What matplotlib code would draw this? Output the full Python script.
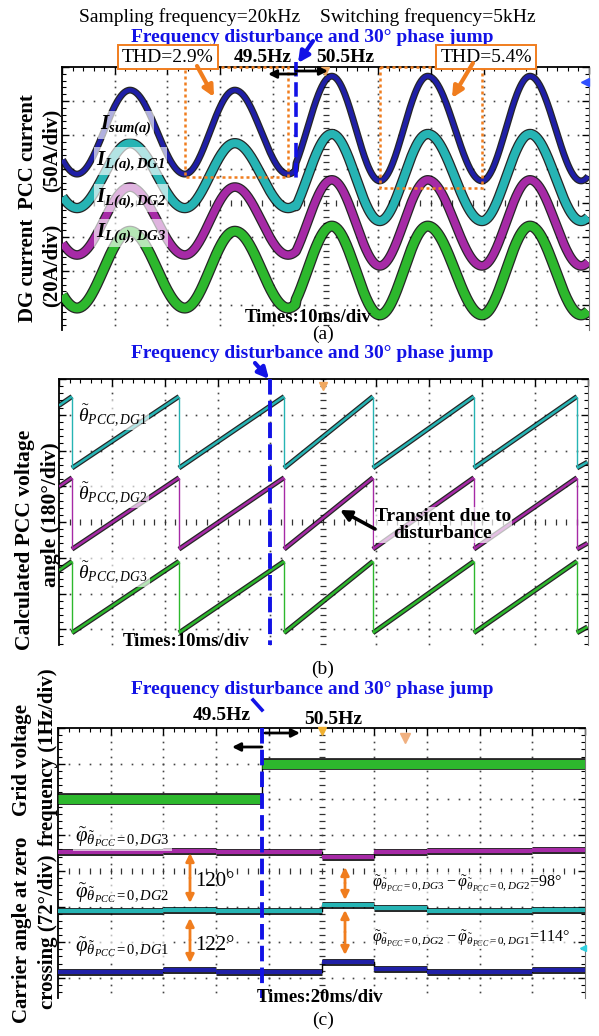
import numpy as np
import matplotlib.pyplot as plt
from matplotlib.ticker import MultipleLocator
from matplotlib.patches import Rectangle

W, H = 599, 1036

plt.rcParams['font.family'] = ['Liberation Serif', 'DejaVu Serif']
plt.rcParams['mathtext.fontset'] = 'custom'
plt.rcParams['mathtext.rm'] = 'Liberation Serif'
plt.rcParams['mathtext.it'] = 'Liberation Serif:italic'
plt.rcParams['mathtext.bf'] = 'Liberation Serif:bold'
plt.rcParams['mathtext.bfit'] = 'Liberation Serif:bold:italic'

BLUE = '#1f1fa6'
CYAN = '#26b4b4'
MAGENTA = '#a62aa6'
GREEN = '#2db82d'
ORANGE = '#f07d1e'
TITLE_BLUE = '#1212e6'

# ---- (a) currents, 10 ms/div; extremum instants in ms, levels in div from top
t_jump_a = 44.4
t_ext_pre = [-7.2, 2.85, 12.9, 23.3, 32.8, 42.9, 53.0]          # peak first
t_ext_post = [41.9, 51.2, 60.3, 69.4, 79.7, 88.8, 98.5, 108.4]  # trough first
cur_peak_pre = [0.68, 2.24, 3.53, 4.83]
cur_trough_pre = [3.15, 4.15, 5.53, 7.09]
cur_peak_post = [0.27, 1.97, 3.32, 4.68]
cur_trough_post = [3.35, 4.53, 5.85, 7.29]
thd_windows = [(23.3, 42.9, 3.24), (60.3, 79.7, 3.56)]

# ---- (b) calculated PCC angle, 10 ms/div, 180 deg/div
t_jump_b = 39.9
resets_b = [2.46, 22.7, 42.6, 59.4, 78.5, 98.0]
ang_start, ang_end = 315, 30
theta_zero = [2.49, 4.76, 7.10]

# ---- (c) grid frequency and carrier angles, 20 ms/div
t_jump_c = 77.4
freq_edges = [0, t_jump_c, 200]
freq_vals = [49.5, 50.5]
phi_edges = [0, 40, 60, 100, 120, 140, 180, 200]
phi_dg1 = [0, 4, 0, 20, 6, 0, 3]
phi_dg2 = [122, 124, 122, 134, 128, 122, 124]
phi_dg3 = [242, 244, 242, 232, 242, 244, 246]
phi_zero = 6.83


def half_cos(t_ext, first_peak, peak, trough, t0, t1, n=60):
    ts, ys = [], []
    for i in range(len(t_ext) - 1):
        is_peak = (i % 2 == 0) == first_peak
        va, vb = (peak, trough) if is_peak else (trough, peak)
        s = np.linspace(0, 1, n)
        ts.append(t_ext[i] + (t_ext[i + 1] - t_ext[i]) * s)
        ys.append(va + (vb - va) * (1 - np.cos(np.pi * s)) / 2)
    t = np.concatenate(ts)
    y = np.concatenate(ys)
    m = (t >= t0) & (t <= t1)
    return t[m], y[m]


fig = plt.figure(figsize=(W / 100, H / 100), dpi=100)


def scope_axes(x0, y0, x1, y1, t_div, ydiv_px):
    ax = fig.add_axes([x0 / W, 1 - y1 / H, (x1 - x0) / W, (y1 - y0) / H])
    ymax = (y1 - y0) / ydiv_px
    ax.set_xlim(0, 10 * t_div)
    ax.set_ylim(ymax, 0)
    ax.patch.set_alpha(0)
    ax.spines['bottom'].set_visible(False)
    ax.spines['left'].set_linewidth(1.3)
    ax.spines['top'].set_linewidth(1.3)
    ax.spines['right'].set_linewidth(0.8)
    ax.spines['right'].set_color('#777777')
    ax.xaxis.set_major_locator(MultipleLocator(t_div))
    ax.xaxis.set_minor_locator(MultipleLocator(t_div / 5))
    ax.yaxis.set_major_locator(MultipleLocator(1))
    ax.yaxis.set_minor_locator(MultipleLocator(0.2))
    ax.tick_params(which='both', direction='in', top=True, bottom=False,
                   left=True, right=True, labelleft=False, labelbottom=False)
    ax.tick_params(which='major', length=5, width=1)
    ax.tick_params(which='minor', length=3, width=0.8)
    ys = np.arange(0, ymax, 0.2)
    xs = np.arange(0, 10 * t_div, t_div / 5)
    for i in range(1, 10):
        if i == 5:
            ax.plot(np.full_like(ys, 5 * t_div), ys, ls='none', marker='_',
                    ms=5, mew=0.9, color='#333333', zorder=1)
        else:
            ax.plot(np.full_like(ys, i * t_div), ys, ls='none', marker='s',
                    ms=1.2, mew=0, color='#444444', zorder=1)
    for j in range(1, int(ymax) + 1):
        if j == 4:
            ax.plot(xs, np.full_like(xs, 4.0), ls='none', marker='|',
                    ms=5, mew=0.9, color='#333333', zorder=1)
        else:
            ax.plot(xs, np.full_like(xs, float(j)), ls='none', marker='s',
                    ms=1.2, mew=0, color='#444444', zorder=1)
    return ax


def band(ax, t, y, color, width, z):
    ax.plot(t, y, color='black', lw=width, alpha=0.85, zorder=z,
            solid_capstyle='butt')
    ax.plot(t, y, color=color, lw=width - 1.8, zorder=z + 0.1,
            solid_capstyle='butt')


def steps(ax, edges, vals, color, width, z):
    # flat levels drawn as bands, the jumps between them as thin lines
    ax.hlines(vals, edges[:-1], edges[1:], color='black', lw=width,
              alpha=0.85, zorder=z)
    ax.hlines(vals, edges[:-1], edges[1:], color=color, lw=width - 2.0,
              zorder=z + 0.1)
    for i in range(1, len(vals)):
        ax.plot([edges[i], edges[i]], [vals[i - 1], vals[i]], color='black',
                lw=1.0, zorder=z)


# ================= (a)
ax_a = scope_axes(62, 67, 589, 330, 10, 34)
cur_colors = [BLUE, CYAN, MAGENTA, GREEN]
cur_widths = [5.0, 7.5, 7.0, 8.0]
for k in [3, 2, 1, 0]:
    t1, y1 = half_cos(t_ext_pre, True, cur_peak_pre[k], cur_trough_pre[k], 0, t_jump_a)
    t2, y2 = half_cos(t_ext_post, False, cur_peak_post[k], cur_trough_post[k], t_jump_a, 100)
    band(ax_a, np.concatenate([t1, t2]), np.concatenate([y1, y2]),
         cur_colors[k], cur_widths[k], 3 + k * 0.2)
for ta, tb, bot in thd_windows:
    ax_a.add_patch(Rectangle((ta, 0), tb - ta, bot, fill=False, ec=ORANGE,
                             lw=1.8, ls=(0, (1.2, 1.2)), zorder=6, clip_on=False))
ax_a.plot([t_jump_a, t_jump_a], [-0.15, 3.3], color=TITLE_BLUE, lw=2.6,
          ls=(0, (4, 1.6)), zorder=7, clip_on=False)

# ================= (b)
ax_b = scope_axes(59, 379, 587.5, 645, 10, 35.75)
saw_colors = [CYAN, MAGENTA, GREEN]
for zero, col in zip(theta_zero, saw_colors):
    ts = [0] + resets_b + [100]
    for i in range(len(ts) - 1):
        a0 = ang_start if i == 0 else 0
        a1 = ang_end if i == len(ts) - 2 else 360
        band(ax_b, [ts[i], ts[i + 1]], [zero - a0 / 180, zero - a1 / 180], col, 3.6, 3)
    ax_b.vlines(resets_b, zero - 2, zero, color=col, lw=1.0, zorder=3)
ax_b.plot([t_jump_b, t_jump_b], [0, 7.44], color=TITLE_BLUE, lw=2.8,
          ls=(0, (4, 1.6)), zorder=7)

# ================= (c)
ax_c = scope_axes(58, 728, 585, 998, 20, 35.7)
steps(ax_c, freq_edges, [1.0 + (50.5 - f) for f in freq_vals], GREEN, 8.5, 3)
for phis, col in [(phi_dg3, MAGENTA), (phi_dg2, CYAN), (phi_dg1, BLUE)]:
    steps(ax_c, phi_edges, [phi_zero - p / 72 for p in phis], col, 5.0, 3)
ax_c.plot([t_jump_c, t_jump_c], [0, 7.56], color=TITLE_BLUE, lw=2.8,
          ls=(0, (4, 1.6)), zorder=7)

# ================= annotation layer in pixel units
ov = fig.add_axes([0, 0, 1, 1])
ov.set_xlim(0, W)
ov.set_ylim(H, 0)
ov.axis('off')
ov.patch.set_alpha(0)


def txt(x, y, s, size=14, **kw):
    kw.setdefault('ha', 'center')
    kw.setdefault('va', 'center')
    ov.text(x, y, s, fontsize=size, **kw)


def arrow(p0, p1, color, lw=2.0, style='-|>', ms=14):
    ov.annotate('', xy=p1, xytext=p0,
                arrowprops=dict(arrowstyle=style, color=color, lw=lw,
                                mutation_scale=ms, shrinkA=0, shrinkB=0))


white_box = dict(boxstyle='square,pad=0.1', fc='white', ec='none', alpha=0.65)

# titles of (a)
txt(190, 17, 'Sampling frequency=20kHz', 14)
txt(428, 17, 'Switching frequency=5kHz', 14)
txt(312, 37, 'Frequency disturbance and 30° phase jump', 14, color=TITLE_BLUE, weight='bold')
thd_box = dict(boxstyle='square,pad=0.2', fc='white', ec=ORANGE, lw=1.4)
txt(168, 57, 'THD=2.9%', 14, bbox=thd_box)
txt(486, 57, 'THD=5.4%', 14, bbox=thd_box)
txt(263, 58, '49.5Hz', 14, weight='bold')
txt(345, 58, '50.5Hz', 14, weight='bold')
arrow((296, 74), (268, 74), 'black', 2.0, ms=12)
arrow((296, 71), (328, 71), 'black', 2.0, ms=12)
arrow((313, 41), (298, 63), TITLE_BLUE, 3.0, ms=16)
arrow((197, 66), (214, 97), ORANGE, 3.0, ms=16)
arrow((473, 63), (452, 98), ORANGE, 3.0, ms=16)
ov.plot([325], [71], marker='v', ms=6, color='#f0a860', ls='none')
ov.plot([585], [82], marker='<', ms=6, color='#3050ff', ls='none')

txt(100, 125, r'$\mathbfit{I}_{\mathbfit{sum(a)}}$', 15, ha='left', bbox=white_box)
txt(96, 161, r'$\mathbfit{I}_{\mathbfit{L(a),DG1}}$', 15, ha='left', bbox=white_box)
txt(96, 198, r'$\mathbfit{I}_{\mathbfit{L(a),DG2}}$', 15, ha='left', bbox=white_box)
txt(96, 233, r'$\mathbfit{I}_{\mathbfit{L(a),DG3}}$', 15, ha='left', bbox=white_box)
txt(28, 152, 'PCC current', 15, weight='bold', rotation=90)
txt(52, 150, '(50A/div)', 15, weight='bold', rotation=90)
txt(28, 270, 'DG current', 15, weight='bold', rotation=90)
txt(52, 265, '(20A/div)', 15, weight='bold', rotation=90)
txt(308, 318, 'Times:10ms/div', 13.5, weight='bold')
txt(323, 334, '(a)', 14)

# (b)
txt(312, 354, 'Frequency disturbance and 30° phase jump', 14, color=TITLE_BLUE, weight='bold')
arrow((255, 363), (269, 379), TITLE_BLUE, 3.0, ms=16)
ov.plot([323], [386], marker='v', ms=6, color='#f0a860', ls='none')
txt(78, 415, r'$\tilde{\theta}_{PCC,DG1}$', 14, ha='left', bbox=white_box)
txt(78, 493, r'$\tilde{\theta}_{PCC,DG2}$', 14, ha='left', bbox=white_box)
txt(78, 572, r'$\tilde{\theta}_{PCC,DG3}$', 14, ha='left', bbox=white_box)
txt(25, 540, 'Calculated PCC voltage', 15.5, weight='bold', rotation=90)
txt(51, 515, 'angle (180°/div)', 15.5, weight='bold', rotation=90)
txt(186, 642, 'Times:10ms/div', 13.5, weight='bold')
txt(443, 525, 'Transient due to\ndisturbance', 14, weight='bold', linespacing=0.95,
    bbox=dict(boxstyle='square,pad=0.05', fc='white', ec='none', alpha=0.7))
arrow((375, 529), (340, 510), 'black', 2.6, ms=16)
txt(323, 669, '(b)', 14)

# (c)
txt(312, 690, 'Frequency disturbance and 30° phase jump', 14, color=TITLE_BLUE, weight='bold')
ov.plot([253, 262], [700, 710], color=TITLE_BLUE, lw=2.6)
txt(222, 715, '49.5Hz', 14, weight='bold')
txt(333, 719, '50.5Hz', 14, weight='bold')
arrow((262, 747), (232, 747), 'black', 2.0, ms=12)
arrow((265, 733), (300, 733), 'black', 2.0, ms=12)
ov.plot([322], [731], marker='v', ms=6, color='#f0b030', ls='none')
ov.plot([405], [738], marker='v', ms=7, color='#f0b080', ls='none')
ov.plot([583], [948], marker='<', ms=5, color='#30d0e0', ls='none')
txt(22, 760, 'Grid voltage', 15, weight='bold', rotation=90)
txt(48, 757, 'frequency (1Hz/div)', 15, weight='bold', rotation=90)
txt(22, 930, 'Carrier angle at zero', 15, weight='bold', rotation=90)
txt(48, 932, 'crossing (72°/div)', 15, weight='bold', rotation=90)
txt(75, 837, r'$\tilde{\varphi}_{\tilde{\theta}_{PCC}=0,DG3}$', 15, ha='left', bbox=white_box)
txt(75, 893, r'$\tilde{\varphi}_{\tilde{\theta}_{PCC}=0,DG2}$', 15, ha='left', bbox=white_box)
txt(75, 947, r'$\tilde{\varphi}_{\tilde{\theta}_{PCC}=0,DG1}$', 15, ha='left', bbox=white_box)
arrow((190, 878), (190, 853), ORANGE, 2.0, ms=12)
arrow((190, 878), (190, 903), ORANGE, 2.0, ms=12)
arrow((190, 940), (190, 918), ORANGE, 2.0, ms=12)
arrow((190, 940), (190, 963), ORANGE, 2.0, ms=12)
arrow((345, 883), (345, 867), ORANGE, 2.0, ms=12)
arrow((345, 883), (345, 900), ORANGE, 2.0, ms=12)
arrow((345, 932), (345, 910), ORANGE, 2.0, ms=12)
arrow((345, 932), (345, 955), ORANGE, 2.0, ms=12)
txt(195, 882, f'{phi_dg3[0] - phi_dg2[0]}°', 15, ha='left')
txt(195, 945, f'{phi_dg2[0] - phi_dg1[0]}°', 15, ha='left')
txt(372, 883, r'$\tilde{\varphi}_{\tilde{\theta}_{PCC}=0,DG3}-\tilde{\varphi}_{\tilde{\theta}_{PCC}=0,DG2}$'
    + f'={phi_dg3[3] - phi_dg2[3]}°', 11.5, ha='left', bbox=white_box)
txt(372, 938, r'$\tilde{\varphi}_{\tilde{\theta}_{PCC}=0,DG2}-\tilde{\varphi}_{\tilde{\theta}_{PCC}=0,DG1}$'
    + f'={phi_dg2[3] - phi_dg1[3]}°', 11.5, ha='left', bbox=white_box)
txt(320, 998, 'Times:20ms/div', 13.5, weight='bold')
txt(323, 1020, '(c)', 14)

fig.savefig('out.png', dpi=100)
